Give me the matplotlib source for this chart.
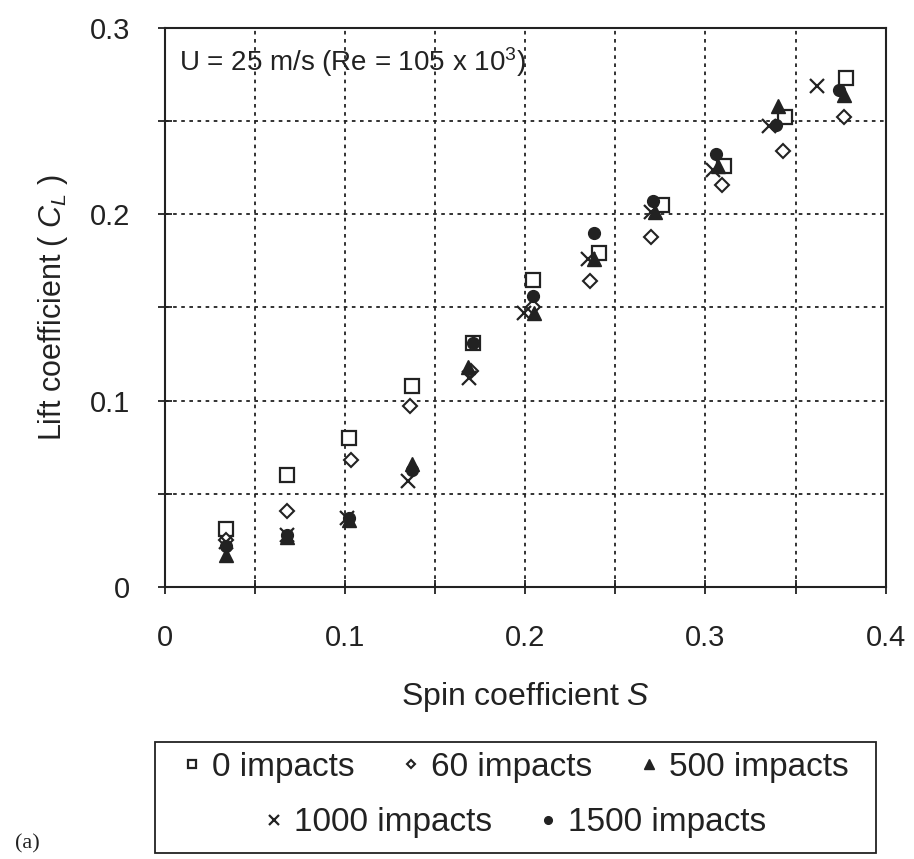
import matplotlib.pyplot as plt
from matplotlib.patches import Rectangle
from matplotlib.ticker import MultipleLocator, FuncFormatter

plt.rcParams['font.family'] = ['Liberation Sans', 'DejaVu Sans']
plt.rcParams['mathtext.fontset'] = 'custom'
plt.rcParams['mathtext.rm'] = 'Liberation Sans'
plt.rcParams['mathtext.it'] = 'Liberation Sans:italic'

# values
labels = ['0 impacts', '60 impacts', '500 impacts', '1000 impacts', '1500 impacts']

s_0 = [0.034, 0.068, 0.102, 0.137, 0.171, 0.204, 0.241, 0.276, 0.310, 0.344, 0.378]
cl_0 = [0.031, 0.060, 0.080, 0.108, 0.131, 0.165, 0.179, 0.205, 0.226, 0.252, 0.273]

s_60 = [0.034, 0.068, 0.103, 0.136, 0.170, 0.204, 0.236, 0.270, 0.309, 0.343, 0.377]
cl_60 = [0.025, 0.041, 0.068, 0.097, 0.116, 0.150, 0.164, 0.188, 0.216, 0.234, 0.252]

s_500 = [0.034, 0.068, 0.102, 0.137, 0.168, 0.205, 0.238, 0.272, 0.307, 0.340, 0.377]
cl_500 = [0.017, 0.027, 0.036, 0.066, 0.118, 0.147, 0.176, 0.201, 0.226, 0.258, 0.264]

s_1000 = [0.034, 0.068, 0.101, 0.135, 0.169, 0.199, 0.235, 0.270, 0.304, 0.335, 0.362]
cl_1000 = [0.024, 0.028, 0.037, 0.057, 0.112, 0.147, 0.176, 0.201, 0.224, 0.2475, 0.269]

s_1500 = [0.034, 0.068, 0.102, 0.137, 0.171, 0.204, 0.238, 0.271, 0.306, 0.339, 0.374]
cl_1500 = [0.022, 0.028, 0.037, 0.063, 0.131, 0.156, 0.190, 0.207, 0.2325, 0.248, 0.2665]

ink = '#222222'

fig = plt.figure(figsize=(9.14, 8.59), dpi=100)
ax = fig.add_axes([0.1805, 0.3167, 0.7885, 0.6507])

h0, = ax.plot(s_0, cl_0, 's', ms=9.5, mfc='white', mec=ink, mew=1.6, ls='none', zorder=3)
h60, = ax.plot(s_60, cl_60, 'D', ms=7, mfc='white', mec=ink, mew=1.5, ls='none', zorder=3)
h500, = ax.plot(s_500, cl_500, '^', ms=10, color=ink, ls='none', zorder=4)
h1000, = ax.plot(s_1000, cl_1000, 'x', ms=10, mec=ink, mew=1.6, ls='none', zorder=4)
h1500, = ax.plot(s_1500, cl_1500, 'o', ms=8.5, color=ink, ls='none', zorder=4)

ax.set_xlim(0, 0.4)
ax.set_ylim(0, 0.3)
ax.xaxis.set_major_locator(MultipleLocator(0.1))
ax.xaxis.set_minor_locator(MultipleLocator(0.05))
ax.yaxis.set_major_locator(MultipleLocator(0.1))
ax.yaxis.set_minor_locator(MultipleLocator(0.05))
fmt = FuncFormatter(lambda v, p: '%g' % round(v, 2))
ax.xaxis.set_major_formatter(fmt)
ax.yaxis.set_major_formatter(fmt)

ax.grid(True, which='both', color=ink, ls=(0, (2, 2.5)), lw=1.3)
ax.tick_params(which='both', direction='inout', length=10, width=1.3, color=ink,
               labelsize=21, labelcolor=ink)
ax.tick_params(axis='x', pad=22)
ax.tick_params(axis='y', pad=20)
for sp in ax.spines.values():
    sp.set_color(ink)
    sp.set_linewidth(1.5)

ax.set_xlabel('Spin coefficient $\\it{S}$', fontsize=23, color=ink, labelpad=20)
ax.set_ylabel('Lift coefficient ( $C_L$ )', fontsize=22, color=ink, labelpad=14)

ax.text(0.02, 0.97, 'U = 25 m/s (Re = 105 x 10$^{\\mathrm{3}}$)', transform=ax.transAxes,
        fontsize=20, color=ink, va='top', ha='left')

# legend: two centred rows inside one box
kw = dict(frameon=False, fontsize=24, handlelength=0.6, handletextpad=0.3,
          columnspacing=1.4, markerscale=0.65, borderpad=0, labelcolor=ink)
leg1 = fig.legend([h0, h60, h500], labels[:3], ncol=3, loc='center',
                  bbox_to_anchor=(0.5635, 0.1065), **kw)
leg2 = fig.legend([h1000, h1500], labels[3:], ncol=2, loc='center',
                  bbox_to_anchor=(0.5635, 0.042), **kw)
fig.add_artist(Rectangle((0.1696, 0.007), 0.789, 0.129, transform=fig.transFigure,
                         fill=False, ec=ink, lw=1.3))

fig.text(0.016, 0.012, '(a)', fontsize=16, family='Liberation Serif', color=ink)

fig.savefig('out.png', dpi=100)
